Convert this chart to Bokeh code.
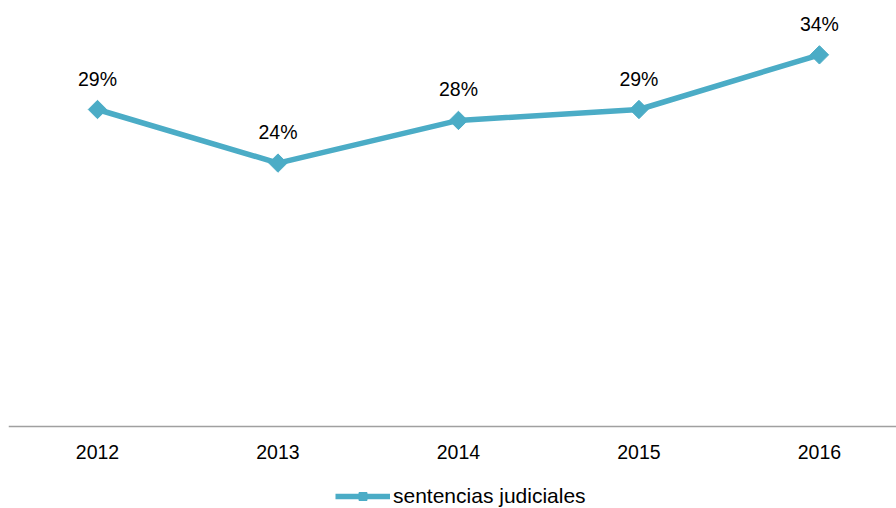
from bokeh.plotting import figure
from bokeh.models import ColumnDataSource, Range1d, Legend, LegendItem, FixedTicker, LinearAxis
from bokeh.core.properties import value
from bokeh.embed import file_html
from bokeh.resources import INLINE
import math

years = ["2012", "2013", "2014", "2015", "2016"]
values = [29.0, 24.1, 28.0, 29.0, 34.0]
labels = ["29%", "24%", "28%", "29%", "34%"]
series_name = "sentencias judiciales"

xs = list(range(len(years)))
src = ColumnDataSource(dict(x=xs, y=values, lab=labels))

p = figure(frame_width=888, frame_height=500, output_backend="svg", toolbar_location=None,
           x_range=Range1d(-0.493, 4.427), y_range=Range1d(-7.5, 38.24),
           x_axis_location=None, y_axis_location=None,
           min_border_left=8, min_border_right=0, min_border_top=8, min_border_bottom=0)
p.outline_line_color = None
p.xgrid.visible = False
p.ygrid.visible = False

color = "#4BACC6"
ln = p.line("x", "y", source=src, line_color=color, line_width=5.5)
mk = p.scatter("x", "y", source=src, marker="square", size=13, angle=math.pi / 4,
               fill_color=color, line_color=color)

p.text("x", "y", text="lab", source=src, text_align="center", text_baseline="middle",
       y_offset=-31, text_font=value("Liberation Sans"), text_font_size="19.5px",
       text_color="#000000")

ax = LinearAxis(fixed_location=0)
ax.ticker = FixedTicker(ticks=xs)
ax.major_label_overrides = {i: y for i, y in zip(xs, years)}
ax.axis_line_color = "#A0A0A0"
ax.axis_line_width = 1.5
ax.major_tick_line_color = None
ax.minor_tick_line_color = None
ax.major_label_standoff = 12
ax.major_label_text_font = "Liberation Sans"
ax.major_label_text_font_size = "19.5px"
ax.major_label_text_color = "#000000"
p.add_layout(ax, "below")

legend = Legend(items=[LegendItem(label=series_name, renderers=[ln, mk])],
                orientation="horizontal", location=(327, 0),
                border_line_color=None, background_fill_alpha=0,
                label_text_font="Liberation Sans", label_text_font_size="21px",
                label_text_color="#000000", glyph_width=55, glyph_height=20,
                label_standoff=3, padding=0, margin=0, spacing=0)
p.add_layout(legend, "center")

open("out.html", "w").write(file_html(p, INLINE))
